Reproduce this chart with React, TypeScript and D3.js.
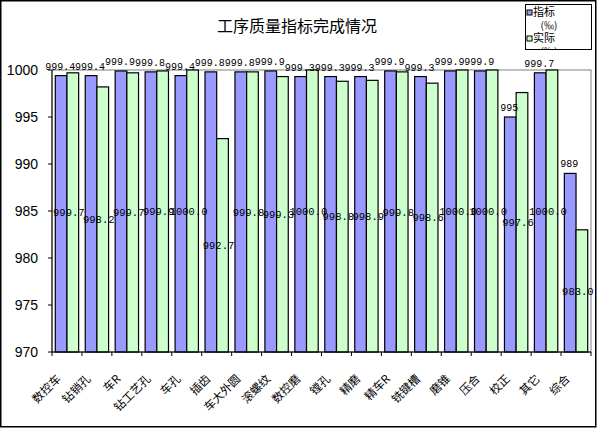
import * as d3 from "d3";

const categories = [
  "数控车", "钻销孔", "车R", "钻工艺孔", "车孔", "插齿", "车大外圆", "滚螺纹", "数控磨",
  "镗孔", "精磨", "精车R", "铣键槽", "磨锥", "压合", "校正", "其它", "综合",
];
const targetValues = [
  999.4, 999.4, 999.9, 999.8, 999.4, 999.8, 999.8, 999.9, 999.3,
  999.3, 999.3, 999.9, 999.3, 999.9, 999.9, 995, 999.7, 989,
];
const targetLabels = [
  "999.4", "999.4", "999.9", "999.8", "999.4", "999.8", "999.8", "999.9", "999.3",
  "999.3", "999.3", "999.9", "999.3", "999.9", "999.9", "995", "999.7", "989",
];
const actualValues = [
  999.7, 998.2, 999.7, 999.9, 1000.0, 992.7, 999.8, 999.3, 1000.0,
  998.8, 998.9, 999.8, 998.6, 1000.0, 1000.0, 997.6, 1000.0, 983.0,
];
const yTicks = [970, 975, 980, 985, 990, 995, 1000];

const W = 598;
const H = 429;
const plot = { left: 52, right: 591, top: 70, bottom: 352 };
const blue = "#9999FF";
const green = "#CCFFCC";
const cjk = "'Noto Sans CJK SC', sans-serif";
const mono = "'Liberation Mono', 'DejaVu Sans Mono', monospace";

export default function App() {
  const x = d3.scaleBand<string>().domain(categories).range([plot.left, plot.right]).paddingInner(0.22).paddingOuter(0.11);
  const sub = d3.scaleBand<string>().domain(["target", "actual"]).range([0, x.bandwidth()]);
  const y = d3.scaleLinear().domain([970, 1000]).range([plot.bottom, plot.top]);
  const step = x.step();

  return (
    <svg width={W} height={H} style={{ display: "block" }}>
      <style>{"body{margin:0}"}</style>
      <rect x={0.75} y={0.75} width={595} height={426} fill="#fff" stroke="#000" strokeWidth={1.5} />

      <text x={297} y={32} textAnchor="middle" fontFamily={cjk} fontSize={16} fill="#000">
        工序质量指标完成情况
      </text>

      {/* plot area border */}
      <rect
        x={plot.left}
        y={plot.top}
        width={plot.right - plot.left}
        height={plot.bottom - plot.top}
        fill="none"
        stroke="#808080"
      />

      {categories.map((cat, i) => {
        const x0 = x(cat) ?? 0;
        const bw = sub.bandwidth();
        const bx = x0 + (sub("target") ?? 0);
        const gx = x0 + (sub("actual") ?? 0);
        return (
          <g key={cat}>
            <rect x={bx} y={y(targetValues[i])} width={bw} height={plot.bottom - y(targetValues[i])} fill={blue} stroke="#000" strokeWidth={1.2} />
            <rect x={gx} y={y(actualValues[i])} width={bw} height={plot.bottom - y(actualValues[i])} fill={green} stroke="#000" strokeWidth={1.2} />
          </g>
        );
      })}

      {/* axes */}
      <line x1={plot.left} x2={plot.left} y1={plot.top} y2={plot.bottom} stroke="#000" />
      <line x1={plot.left} x2={plot.right} y1={plot.bottom} y2={plot.bottom} stroke="#000" />
      {yTicks.map((t) => (
        <g key={t}>
          <line x1={plot.left - 4} x2={plot.left} y1={y(t)} y2={y(t)} stroke="#000" />
          <text x={38} y={y(t)} dy="0.36em" textAnchor="end" fontFamily="'Liberation Sans', Arial, sans-serif" fontSize={14} fill="#000">
            {t}
          </text>
        </g>
      ))}
      {d3.range(categories.length + 1).map((i) => {
        const tx = plot.left + i * step;
        return <line key={i} x1={tx} x2={tx} y1={plot.bottom} y2={plot.bottom + 4} stroke="#000" />;
      })}

      {/* category labels */}
      {categories.map((cat) => {
        const cx = (x(cat) ?? 0) + x.bandwidth() / 2;
        return (
          <text
            key={cat}
            transform={`translate(${cx - 9},${376}) rotate(-45)`}
            textAnchor="end"
            dominantBaseline="central"
            fontFamily={cjk}
            fontSize={11.5}
            fill="#000"
          >
            {cat}
          </text>
        );
      })}

      {/* data labels */}
      {categories.map((cat, i) => {
        const x0 = x(cat) ?? 0;
        const bw = sub.bandwidth();
        const bcx = x0 + (sub("target") ?? 0) + bw / 2;
        const gcx = x0 + (sub("actual") ?? 0) + bw / 2;
        const gy = (plot.bottom + y(actualValues[i])) / 2;
        return (
          <g key={cat} fontFamily={mono} fontSize={10} fill="#000">
            <text x={bcx - 1} y={y(targetValues[i]) - 6} textAnchor="middle">
              {targetLabels[i]}
            </text>
            <text x={gcx - 4} y={gy} dy="0.35em" textAnchor="middle" fontSize={10.5}>
              {actualValues[i].toFixed(1)}
            </text>
          </g>
        );
      })}

      {/* legend */}
      <defs>
        <clipPath id="legendClip">
          <rect x={525} y={4} width={67} height={45} />
        </clipPath>
      </defs>
      <rect x={525.5} y={4.5} width={66} height={45} fill="#fff" stroke="#000" />
      <g clipPath="url(#legendClip)" fontFamily={cjk} fontSize={11} fill="#000">
        <rect x={527} y={10} width={5} height={5} fill={blue} stroke="#000" />
        <text x={533} y={16}>指标</text>
        <text x={549} y={29} textAnchor="middle" fontSize={10}>(‰)</text>
        <rect x={527} y={36} width={5} height={5} fill={green} stroke="#000" />
        <text x={533} y={42}>实际</text>
        <text x={549} y={55} textAnchor="middle" fontSize={10}>(‰)</text>
      </g>
    </svg>
  );
}
